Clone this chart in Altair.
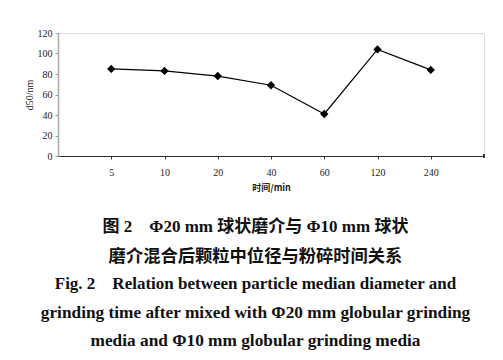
import altair as alt
import pandas as pd

times = ["5", "10", "20", "40", "60", "120", "240"]
d50 = [85, 83, 78, 69, 41, 104, 84]
y_ticks = [0, 20, 40, 60, 80, 100, 120]
x_title = "时间/min"
y_title = "d50/nm"
caption = [
    "图 2\u2003Φ20 mm 球状磨介与 Φ10 mm 球状",
    "磨介混合后颗粒中位径与粉碎时间关系",
    "Fig. 2\u2003Relation between particle median diameter and",
    "grinding time after mixed with Φ20 mm globular grinding",
    "media and Φ10 mm globular grinding media",
]

df = pd.DataFrame({"time": times, "d50": d50})

W, H = 426, 123
tick_font = "'Liberation Serif', 'DejaVu Serif', serif"

x = alt.X(
    "time:O", sort=times,
    scale=alt.Scale(type="point", padding=1),
    axis=alt.Axis(
        title=x_title, labelAngle=0, labelFont=tick_font, labelFontSize=10,
        labelColor="#222", labelPadding=8, tickSize=3, tickColor="#333",
        domainColor="#333", domainWidth=1, titleFont="Noto Sans CJK SC",
        titleFontSize=9, titleFontWeight="bold", titleColor="#222", titlePadding=6,
    ),
)
y = alt.Y(
    "d50:Q",
    scale=alt.Scale(domain=[0, 120], nice=False),
    axis=alt.Axis(
        values=y_ticks, title=y_title, grid=False, labelFont=tick_font,
        labelFontSize=10, labelColor="#222", labelPadding=3, tickSize=3,
        tickColor="#999", domainColor="#aaa", domainWidth=1.5,
        titleFont=tick_font, titleFontSize=10, titleFontWeight="normal",
        titleColor="#222", titlePadding=3,
    ),
)

base = alt.Chart(df)
line = base.mark_line(color="black", strokeWidth=1.2).encode(x=x, y=y)
pts = base.mark_point(shape="diamond", filled=True, size=70, color="black", opacity=1).encode(x=x, y=y)
end_tick = base.mark_rule(color="#333").encode(
    x=alt.value(W), y=alt.value(H - 2), y2=alt.value(H + 2)
)

cap_y = [194, 224, 251, 280, 308]
cap_size = [17, 17.3, 17, 17.3, 17.3]
cap_layers = []
for i, t in enumerate(caption):
    cap_layers.append(
        alt.Chart(pd.DataFrame({"t": [t]})).mark_text(
            font="'Liberation Serif', 'Noto Sans CJK SC', serif", fontSize=cap_size[i],
            fontWeight="bold", color="#111", baseline="middle", align="center",
        ).encode(text="t:N", x=alt.value(197.5), y=alt.value(cap_y[i]))
    )

chart = alt.layer(line, pts, end_tick, *cap_layers).properties(
    width=W, height=H,
    autosize=alt.AutoSizeParams(type="none"),
    padding={"left": 50, "top": 25, "right": 11, "bottom": 196},
).configure_view(stroke=None).configure(background="white")

chart.save("out.html", embed_options={"renderer": "svg", "actions": False})
